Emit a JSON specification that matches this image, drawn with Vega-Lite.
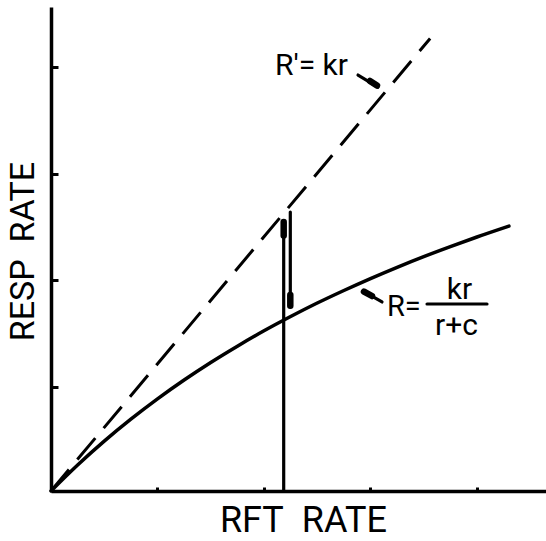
{
  "$schema": "https://vega.github.io/schema/vega-lite/v6.json",
  "width": 495,
  "height": 484,
  "autosize": {"type": "none"},
  "padding": {"left": 51, "top": 7, "right": 0, "bottom": 50},
  "background": "white",
  "config": {
    "view": {"stroke": null},
    "text": {"font": "Roboto", "color": "black"}
  },
  "datasets": {
    "curve": [
      {"x": 0, "y": 0}, {"x": 0.25, "y": 0.244}, {"x": 0.5, "y": 0.468}, {"x": 0.75, "y": 0.674},
      {"x": 1, "y": 0.865}, {"x": 1.25, "y": 1.042}, {"x": 1.5, "y": 1.207}, {"x": 1.75, "y": 1.36},
      {"x": 2, "y": 1.504}, {"x": 2.25, "y": 1.638}, {"x": 2.5, "y": 1.765}, {"x": 2.75, "y": 1.883},
      {"x": 3, "y": 1.995}, {"x": 3.25, "y": 2.101}, {"x": 3.5, "y": 2.201}, {"x": 3.75, "y": 2.295},
      {"x": 4, "y": 2.385}, {"x": 4.3, "y": 2.487}
    ],
    "dashed": [{"x": 0, "y": 0}, {"x": 3.56, "y": 4.25}],
    "rules": [
      {"x": 2.185, "y": 0, "x2": 2.185, "y2": 2.526},
      {"x": 2.247, "y": 2.62, "x2": 2.247, "y2": 1.728},
      {"x": 2.883, "y": 3.906, "x2": 3.07, "y2": 3.793},
      {"x": 2.93, "y": 1.878, "x2": 3.108, "y2": 1.775},
      {"x": 3.531, "y": 1.756, "x2": 4.094, "y2": 1.756}
    ],
    "blobs": [
      {"x": 2.185, "y": 2.526, "x2": 2.185, "y2": 2.4},
      {"x": 2.247, "y": 1.84, "x2": 2.247, "y2": 1.74},
      {"x": 2.995, "y": 3.85, "x2": 3.061, "y2": 3.808},
      {"x": 2.939, "y": 1.873, "x2": 3.014, "y2": 1.831}
    ],
    "lab1": [{"x": 2.103, "y": 3.906, "label": "R′= kr"}],
    "lab2": [{"x": 3.155, "y": 1.643, "label": "R="}],
    "lab3": [{"x": 3.835, "y": 1.805, "label": "kr"}],
    "lab4": [{"x": 3.808, "y": 1.465, "label": "r+c"}]
  },
  "encoding": {
    "x": {
      "field": "x", "type": "quantitative",
      "scale": {"domain": [0, 4.648], "nice": false, "zero": false},
      "axis": {
        "title": "RFT\u00a0\u00a0RATE", "values": [1, 2, 3, 4], "labels": false, "grid": false,
        "domainColor": "black", "domainWidth": 3.5, "tickColor": "black", "tickWidth": 3, "tickSize": -4,
        "titleFont": "Roboto", "titleFontSize": 36,
        "titleFontWeight": "normal", "titleColor": "black", "titleX": 252, "titleY": 40,
        "titleBaseline": "alphabetic", "titleAlign": "center", "titleAnchor": null
      }
    },
    "y": {
      "field": "y", "type": "quantitative",
      "scale": {"domain": [0, 4.545], "nice": false, "zero": false},
      "axis": {
        "title": "RESP\u00a0\u00a0RATE", "values": [1, 2, 3, 4], "labels": false, "grid": false,
        "domainColor": "black", "domainWidth": 3.5, "tickColor": "black", "tickWidth": 3, "tickSize": -7,
        "tickOffset": 2,
        "titleFont": "Roboto", "titleFontSize": 34,
        "titleFontWeight": "normal", "titleColor": "black", "titleX": -18, "titleY": 244, "titleAngle": -90,
        "titleBaseline": "alphabetic", "titleAlign": "center", "titleAnchor": null
      }
    }
  },
  "layer": [
    {
      "data": {"name": "curve"},
      "mark": {"type": "line", "color": "black", "strokeWidth": 3.5, "interpolate": "monotone", "strokeCap": "round"}
    },
    {
      "data": {"name": "dashed"},
      "mark": {"type": "line", "color": "black", "strokeWidth": 3, "strokeDash": [28, 13]}
    },
    {
      "data": {"name": "rules"},
      "mark": {"type": "rule", "color": "black", "strokeWidth": 3.2, "strokeCap": "round"},
      "encoding": {"x2": {"field": "x2"}, "y2": {"field": "y2"}}
    },
    {
      "data": {"name": "blobs"},
      "mark": {"type": "rule", "color": "black", "strokeWidth": 6.5, "strokeCap": "round"},
      "encoding": {"x2": {"field": "x2"}, "y2": {"field": "y2"}}
    },
    {
      "data": {"name": "lab1"},
      "mark": {"type": "text", "align": "left", "baseline": "alphabetic", "fontSize": 30},
      "encoding": {"text": {"field": "label"}}
    },
    {
      "data": {"name": "lab2"},
      "mark": {"type": "text", "align": "left", "baseline": "alphabetic", "fontSize": 29},
      "encoding": {"text": {"field": "label"}}
    },
    {
      "data": {"name": "lab3"},
      "mark": {"type": "text", "align": "center", "baseline": "alphabetic", "fontSize": 30},
      "encoding": {"text": {"field": "label"}}
    },
    {
      "data": {"name": "lab4"},
      "mark": {"type": "text", "align": "center", "baseline": "alphabetic", "fontSize": 30},
      "encoding": {"text": {"field": "label"}}
    }
  ]
}
